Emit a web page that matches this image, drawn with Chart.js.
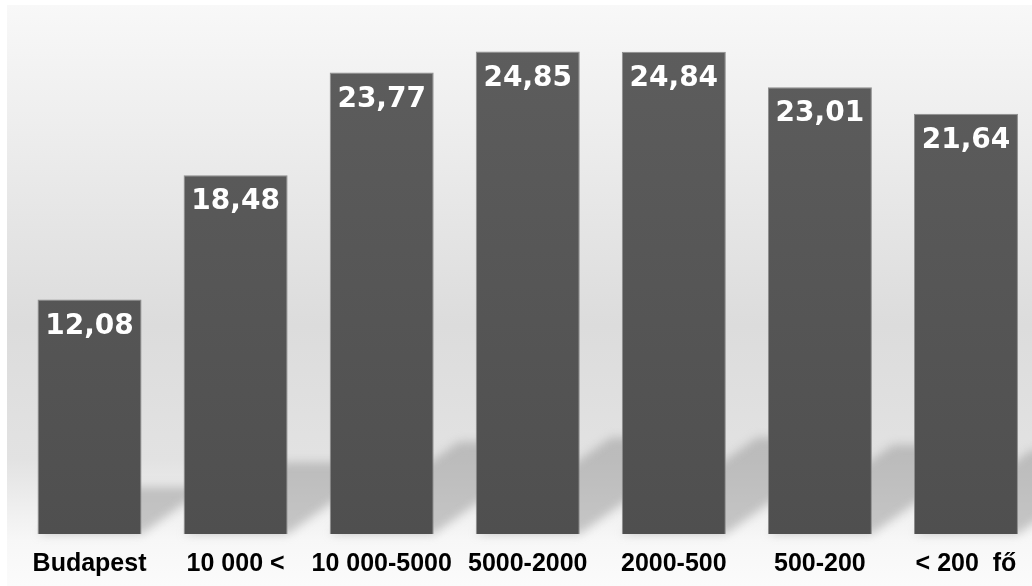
<!DOCTYPE html>
<html>
<head>
<meta charset="utf-8">
<script src="https://cdn.jsdelivr.net/npm/chart.js@4"></script>
<style>
    html, body { margin: 0; padding: 0; background: #ffffff; }
    #wrap { width: 1032px; height: 586px; overflow: hidden; position: relative; }
    #chart { display: block; }
</style>
</head>
<body>
<div id="wrap"><canvas id="chart" width="1045" height="586"></canvas></div>
<script>
// categories and values (%)
const categories = ['Budapest', '10 000 <', '10 000-5000', '5000-2000', '2000-500', '500-200', '< 200  fő'];
const values = [12.08, 18.48, 23.77, 24.85, 24.84, 23.01, 21.64];

// panel background with soft gradient
const panelBackground = {
    id: 'panelBackground',
    beforeDraw(chart) {
        const ctx = chart.ctx;
        const g = ctx.createLinearGradient(0, 5, 0, 586);
        g.addColorStop(0, '#f8f8f8');
        g.addColorStop(0.3, '#e9e9e9');
        g.addColorStop(0.55, '#dcdcdc');
        g.addColorStop(0.78, '#e2e2e2');
        g.addColorStop(0.92, '#f7f7f7');
        g.addColorStop(1, '#fbfbfb');
        ctx.save();
        ctx.fillStyle = g;
        ctx.fillRect(7, 5, chart.width, chart.height);
        ctx.restore();
    }
};

// diagonal floor shadows behind each bar
const barShadows = {
    id: 'barShadows',
    beforeDatasetsDraw(chart) {
        const ctx = chart.ctx;
        const meta = chart.getDatasetMeta(0);
        ctx.save();
        ctx.filter = 'blur(5px)';
        ctx.fillStyle = 'rgba(150,150,150,0.5)';
        meta.data.forEach(bar => {
            const left = bar.x - bar.width / 2;
            const right = bar.x + bar.width / 2;
            const bottom = bar.base;
            const h = bar.base - bar.y;
            const dy = h * 0.2;
            const dx = dy * 1.4;
            ctx.beginPath();
            ctx.moveTo(left, bottom);
            ctx.lineTo(right, bottom);
            ctx.lineTo(right + dx, bottom - dy);
            ctx.lineTo(left + dx, bottom - dy);
            ctx.closePath();
            ctx.fill();
        });
        ctx.restore();
    }
};

// white value labels inside the top of each bar
const valueLabels = {
    id: 'valueLabels',
    afterDatasetsDraw(chart) {
        const ctx = chart.ctx;
        const meta = chart.getDatasetMeta(0);
        ctx.save();
        ctx.fillStyle = '#ffffff';
        ctx.font = 'bold 28px "DejaVu Sans"';
        ctx.textAlign = 'center';
        ctx.textBaseline = 'top';
        meta.data.forEach((bar, i) => {
            const txt = values[i].toFixed(2).replace('.', ',');
            ctx.fillText(txt, bar.x, bar.y + 13);
        });
        ctx.restore();
    }
};

const ctx = document.getElementById('chart').getContext('2d');
const barFill = ctx.createLinearGradient(0, 0, 0, 534);
barFill.addColorStop(0, '#5e5e5e');
barFill.addColorStop(1, '#4f4f4f');

new Chart(ctx, {
    type: 'bar',
    data: {
        labels: categories,
        datasets: [{
            data: values,
            backgroundColor: barFill,
            borderColor: '#8c8c8c',
            borderWidth: 1,
            barPercentage: 0.712,
            categoryPercentage: 1.0
        }]
    },
    options: {
        responsive: false,
        animation: false,
        layout: { padding: { left: 16.5, right: 6, top: 0, bottom: 0 } },
        plugins: {
            legend: { display: false },
            tooltip: { enabled: false }
        },
        scales: {
            x: {
                grid: { display: false },
                border: { display: false },
                ticks: {
                    color: '#000000',
                    font: { family: '"Liberation Sans", Arial', size: 25, weight: 'bold' },
                    padding: 7,
                    maxRotation: 0,
                    autoSkip: false
                },
                afterFit(scale) { scale.height = 52; }
            },
            y: {
                display: false,
                min: 0,
                max: 27.5
            }
        }
    },
    plugins: [panelBackground, barShadows, valueLabels]
});
</script>
</body>
</html>
